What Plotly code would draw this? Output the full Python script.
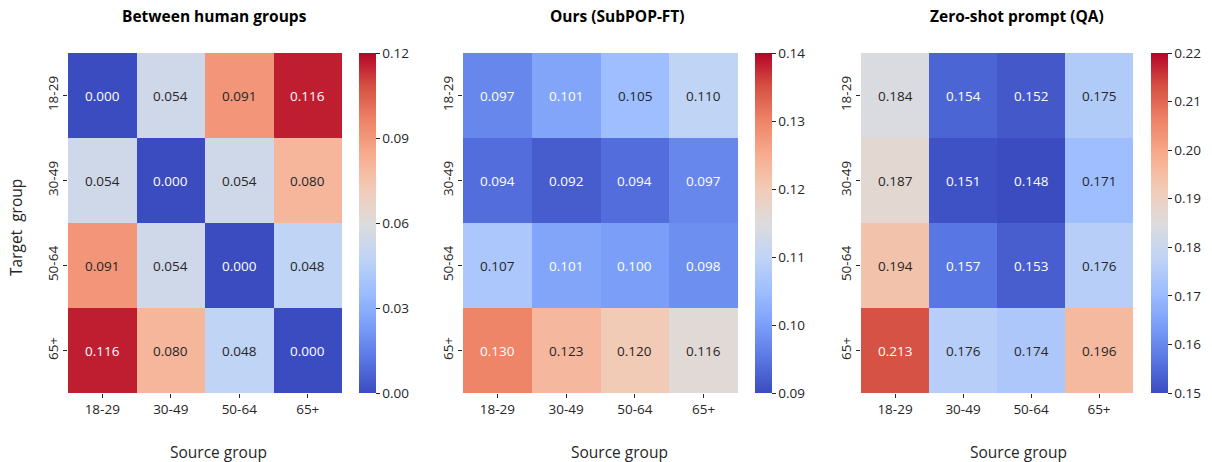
import plotly.graph_objects as go

groups = ["18-29", "30-49", "50-64", "65+"]

human_vals = [
    [0.000, 0.054, 0.091, 0.116],
    [0.054, 0.000, 0.054, 0.080],
    [0.091, 0.054, 0.000, 0.048],
    [0.116, 0.080, 0.048, 0.000],
]
ours_vals = [
    [0.097, 0.101, 0.105, 0.110],
    [0.094, 0.092, 0.094, 0.097],
    [0.107, 0.101, 0.100, 0.098],
    [0.130, 0.123, 0.120, 0.116],
]
zeroshot_vals = [
    [0.184, 0.154, 0.152, 0.175],
    [0.187, 0.151, 0.148, 0.171],
    [0.194, 0.157, 0.153, 0.176],
    [0.213, 0.176, 0.174, 0.196],
]

titles = ["Between human groups", "Ours (SubPOP-FT)", "Zero-shot prompt (QA)"]
ranges = [(0.0, 0.12), (0.09, 0.14), (0.15, 0.22)]
cb_ticks = [
    [0.00, 0.03, 0.06, 0.09, 0.12],
    [0.09, 0.10, 0.11, 0.12, 0.13, 0.14],
    [0.15, 0.16, 0.17, 0.18, 0.19, 0.20, 0.21, 0.22],
]

coolwarm_hex = ["#3b4cc0", "#5977e3", "#7b9ff9", "#9ebeff", "#c0d4f5", "#dddcdc",
                "#f2cbb7", "#f7ac8e", "#ee8468", "#d65244", "#b40426"]
n = len(coolwarm_hex)
colorscale = [[i / (n - 1), c] for i, c in enumerate(coolwarm_hex)]


def hex2rgb(h):
    h = h.lstrip("#")
    return [int(h[i:i + 2], 16) / 255 for i in (0, 2, 4)]


def color_at(t):
    t = min(max(t, 0), 1)
    pos = t * (n - 1)
    i = min(int(pos), n - 2)
    f = pos - i
    a, b = hex2rgb(coolwarm_hex[i]), hex2rgb(coolwarm_hex[i + 1])
    return [a[k] + (b[k] - a[k]) * f for k in range(3)]


def luminance(rgb):
    def lin(c):
        return c / 12.92 if c <= 0.03928 else ((c + 0.055) / 1.055) ** 2.4
    r, g, b = [lin(c) for c in rgb]
    return 0.2126 * r + 0.7152 * g + 0.0722 * b


W, H = 1212, 462
heat_x = [(68, 342), (463, 738), (861, 1133)]
heat_y = (53, 393)
cb_x = [359, 755, 1151]
title_cx = [214, 617, 1017]
src_cx = [218, 619, 1018]

FONT = "Open Sans"
DARK = "#262626"
TICK = 13.5

fig = go.Figure()
annotations = []
datasets = [human_vals, ours_vals, zeroshot_vals]

for k, vals in enumerate(datasets):
    xa = "x" if k == 0 else f"x{k+1}"
    ya = "y" if k == 0 else f"y{k+1}"
    zmin, zmax = ranges[k]
    fig.add_trace(go.Heatmap(
        z=vals, x=groups, y=groups, xaxis=xa, yaxis=ya,
        colorscale=colorscale, zmin=zmin, zmax=zmax,
        hoverinfo="skip",
        colorbar=dict(
            x=cb_x[k] / W, xanchor="left", xref="paper", xpad=0, ypad=0,
            y=1 - (heat_y[0] + heat_y[1]) / 2 / H, yanchor="middle",
            len=(heat_y[1] - heat_y[0]) / H, lenmode="fraction",
            thickness=17, thicknessmode="pixels",
            outlinewidth=0,
            tickvals=cb_ticks[k], tickformat=".2f",
            ticks="outside", ticklen=4, tickcolor=DARK,
            tickfont=dict(family=FONT, size=TICK, color=DARK),
        ),
    ))
    for i, row in enumerate(vals):
        for j, v in enumerate(row):
            rgb = color_at((v - zmin) / (zmax - zmin))
            tc = DARK if luminance(rgb) > 0.408 else "white"
            annotations.append(dict(
                x=groups[j], y=groups[i], xref=xa, yref=ya,
                text=f"{v:.3f}", showarrow=False,
                font=dict(family=FONT, size=13.5, color=tc),
            ))
    axx = dict(
        domain=[heat_x[k][0] / W, heat_x[k][1] / W], anchor=ya,
        type="category", ticks="outside", ticklen=4, tickcolor=DARK,
        tickfont=dict(family=FONT, size=TICK, color=DARK),
        showgrid=False, zeroline=False, showline=False,
    )
    axy = dict(
        domain=[1 - heat_y[1] / H, 1 - heat_y[0] / H], anchor=xa,
        type="category", autorange="reversed", ticks="outside", ticklen=4,
        tickcolor=DARK, tickangle=-90,
        tickfont=dict(family=FONT, size=TICK, color=DARK),
        showgrid=False, zeroline=False, showline=False,
    )
    key = "" if k == 0 else str(k + 1)
    fig.update_layout(**{f"xaxis{key}": axx, f"yaxis{key}": axy})
    annotations.append(dict(
        x=title_cx[k] / W, y=1 - 16 / H, xref="paper", yref="paper",
        text=f"<b>{titles[k]}</b>", showarrow=False,
        font=dict(family=FONT, size=15.5, color="black"),
        xanchor="center", yanchor="middle",
    ))
    annotations.append(dict(
        x=src_cx[k] / W, y=1 - 452 / H, xref="paper", yref="paper",
        text="Source group", showarrow=False,
        font=dict(family=FONT, size=15.5, color=DARK),
        xanchor="center", yanchor="middle",
    ))

annotations.append(dict(
    x=16 / W, y=1 - 228 / H, xref="paper", yref="paper",
    text="Target  group", showarrow=False, textangle=-90,
    font=dict(family=FONT, size=15.5, color=DARK),
    xanchor="center", yanchor="middle",
))

fig.update_layout(
    width=W, height=H,
    margin=dict(l=0, r=0, t=0, b=0),
    paper_bgcolor="white", plot_bgcolor="white",
    annotations=annotations,
    showlegend=False,
)

fig.write_html("out.html", config={"displayModeBar": False},
               post_script="document.body.style.margin='0px';document.body.style.overflow='hidden';")
